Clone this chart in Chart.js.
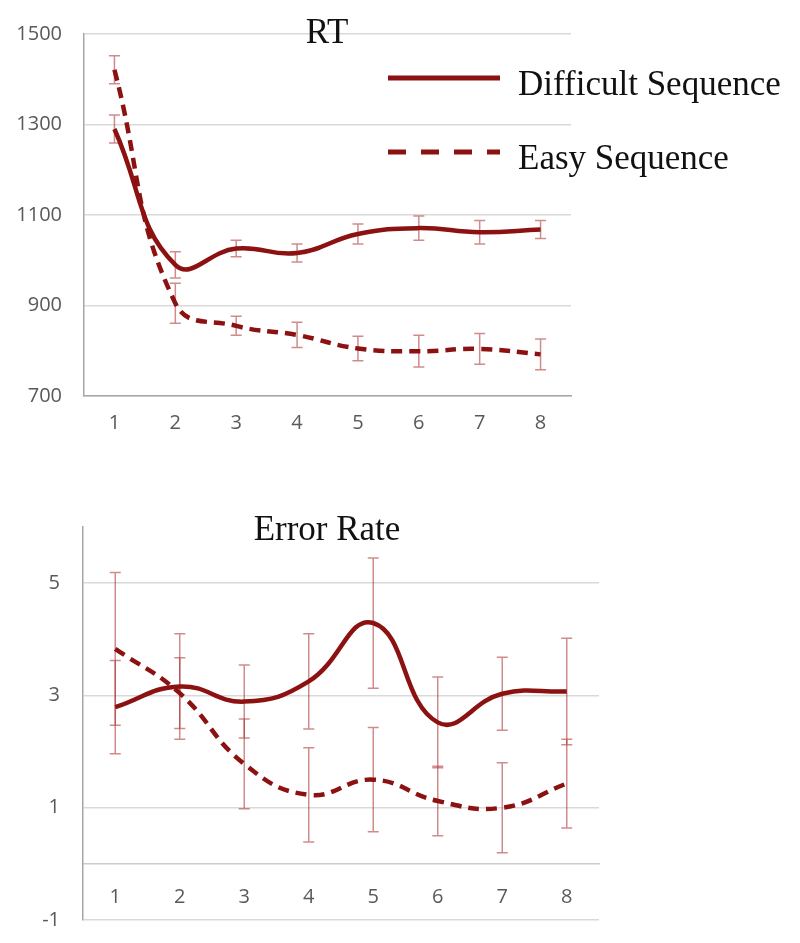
<!DOCTYPE html>
<html>
<head>
<meta charset="utf-8">
<script src="https://cdn.jsdelivr.net/npm/chart.js@4.4.0/dist/chart.umd.min.js"></script>
<style>
  html, body { margin: 0; padding: 0; background: #fff; overflow: hidden; }
  canvas { display: block; }
</style>
</head>
<body>
<canvas id="rtChart" width="800" height="460"></canvas>
<canvas id="errChart" width="800" height="495"></canvas>
<script>
// ---- data ----
const blocks = ['1', '2', '3', '4', '5', '6', '7', '8'];
const seriesNames = ['Difficult Sequence', 'Easy Sequence'];

const rtDifficult = [1290, 990, 1026, 1016, 1058, 1071, 1062, 1068];
const rtDifficultErr = [31, 29, 18, 20, 22, 27, 26, 20];
const rtEasy = [1421, 905, 855, 835, 805, 799, 804, 792];
const rtEasyErr = [31, 44, 21, 28, 27, 35, 34, 34];
const rtTicks = [700, 900, 1100, 1300, 1500];

const errDifficult = [2.79, 3.16, 2.89, 3.25, 4.29, 2.52, 3.03, 3.07];
const errDifficultErr = [0.83, 0.94, 0.65, 0.85, 1.16, 0.81, 0.65, 0.95];
const errEasy = [3.83, 3.04, 1.78, 1.23, 1.50, 1.12, 1.00, 1.43];
const errEasyErr = [1.36, 0.63, 0.80, 0.84, 0.93, 0.62, 0.80, 0.79];
const errTicks = [-1, 1, 3, 5];

const lineColor = '#8c1111';
const barColor = 'rgba(170, 45, 45, 0.55)';
const tickFont = { family: 'Open Sans', size: 20 };
const tickColor = '#595959';

// error bars, drawn under the lines
const errorBars = {
    id: 'errorBars',
    beforeDatasetsDraw(chart) {
        const ctx = chart.ctx;
        const y = chart.scales.y;
        ctx.save();
        ctx.strokeStyle = barColor;
        ctx.lineWidth = 1.5;
        chart.data.datasets.forEach((ds, i) => {
            chart.getDatasetMeta(i).data.forEach((pt, j) => {
                const top = y.getPixelForValue(ds.data[j] + ds.errors[j]);
                const bot = y.getPixelForValue(ds.data[j] - ds.errors[j]);
                ctx.beginPath();
                ctx.moveTo(pt.x, top); ctx.lineTo(pt.x, bot);
                ctx.moveTo(pt.x - 5.5, top); ctx.lineTo(pt.x + 5.5, top);
                ctx.moveTo(pt.x - 5.5, bot); ctx.lineTo(pt.x + 5.5, bot);
                ctx.stroke();
            });
        });
        ctx.restore();
    }
};

// title + legend placed over the plot, like the original
const overlay = {
    id: 'overlay',
    afterDraw(chart, args, opts) {
        const ctx = chart.ctx;
        ctx.save();
        ctx.fillStyle = '#111';
        ctx.font = '35px "Liberation Serif"';
        ctx.textAlign = 'center';
        ctx.textBaseline = 'alphabetic';
        ctx.fillText(opts.title, opts.titleX, opts.titleY);
        if (opts.legend) {
            ctx.textAlign = 'left';
            chart.data.datasets.forEach((ds, i) => {
                const ly = opts.legendY[i];
                ctx.strokeStyle = lineColor;
                ctx.lineWidth = 5;
                ctx.setLineDash(i === 1 ? [18, 15] : []);
                ctx.beginPath();
                ctx.moveTo(388, ly); ctx.lineTo(500, ly);
                ctx.stroke();
                ctx.fillText(ds.label, 518, ly + 17);
            });
        }
        ctx.restore();
    }
};

function makeDatasets(diff, diffErr, easy, easyErr) {
    return [{
        label: seriesNames[0],
        data: diff,
        errors: diffErr,
        borderColor: lineColor,
        borderWidth: 4.5,
        tension: 0.45,
        pointRadius: 0
    }, {
        label: seriesNames[1],
        data: easy,
        errors: easyErr,
        borderColor: lineColor,
        borderWidth: 4.5,
        borderDash: [11, 7],
        tension: 0.45,
        pointRadius: 0
    }];
}

// ===============================
// RT
// ===============================
new Chart(document.getElementById('rtChart'), {
    type: 'line',
    data: {
        labels: blocks,
        datasets: makeDatasets(rtDifficult, rtDifficultErr, rtEasy, rtEasyErr)
    },
    plugins: [errorBars, overlay],
    options: {
        responsive: false,
        animation: false,
        layout: { padding: { top: 33, right: 229, bottom: 14, left: 0 } },
        scales: {
            x: {
                offset: true,
                grid: { display: false, drawTicks: false },
                border: { color: '#a6a6a6', width: 1.5 },
                ticks: { font: tickFont, color: tickColor, padding: 15 },
                afterFit: s => { s.height = 50; }
            },
            y: {
                min: 700,
                max: 1500,
                afterBuildTicks: s => { s.ticks = rtTicks.map(v => ({ value: v })); },
                grid: { color: '#d9d9d9', lineWidth: 1.5, drawTicks: false },
                border: { color: '#a6a6a6', width: 1.5 },
                ticks: { font: tickFont, color: tickColor, padding: 22, callback: v => String(v) },
                afterFit: s => { s.width = 84; }
            }
        },
        plugins: {
            legend: { display: false },
            tooltip: { enabled: false },
            overlay: { title: 'RT', titleX: 327, titleY: 43, legend: true, legendY: [78, 152] }
        }
    }
});

// ===============================
// Error Rate
// ===============================
new Chart(document.getElementById('errChart'), {
    type: 'line',
    data: {
        labels: blocks,
        datasets: makeDatasets(errDifficult, errDifficultErr, errEasy, errEasyErr)
    },
    plugins: [errorBars, overlay],
    options: {
        responsive: false,
        animation: false,
        layout: { padding: { top: 67, right: 201, bottom: 24, left: 0 } },
        scales: {
            x: {
                position: { y: 0 },
                offset: true,
                grid: { display: false, drawTicks: false },
                border: { color: '#cccccc', width: 1.5 },
                ticks: { font: tickFont, color: tickColor, padding: 21 }
            },
            y: {
                min: -1,
                max: 6,
                afterBuildTicks: s => { s.ticks = errTicks.map(v => ({ value: v })); },
                grid: { color: '#d9d9d9', lineWidth: 1.5, drawTicks: false },
                border: { color: '#a6a6a6', width: 1.5 },
                ticks: { font: tickFont, color: tickColor, padding: 23, callback: v => String(v) },
                afterFit: s => { s.width = 83; }
            }
        },
        plugins: {
            legend: { display: false },
            tooltip: { enabled: false },
            overlay: { title: 'Error Rate', titleX: 327, titleY: 80, legend: false }
        }
    }
});
</script>
</body>
</html>
